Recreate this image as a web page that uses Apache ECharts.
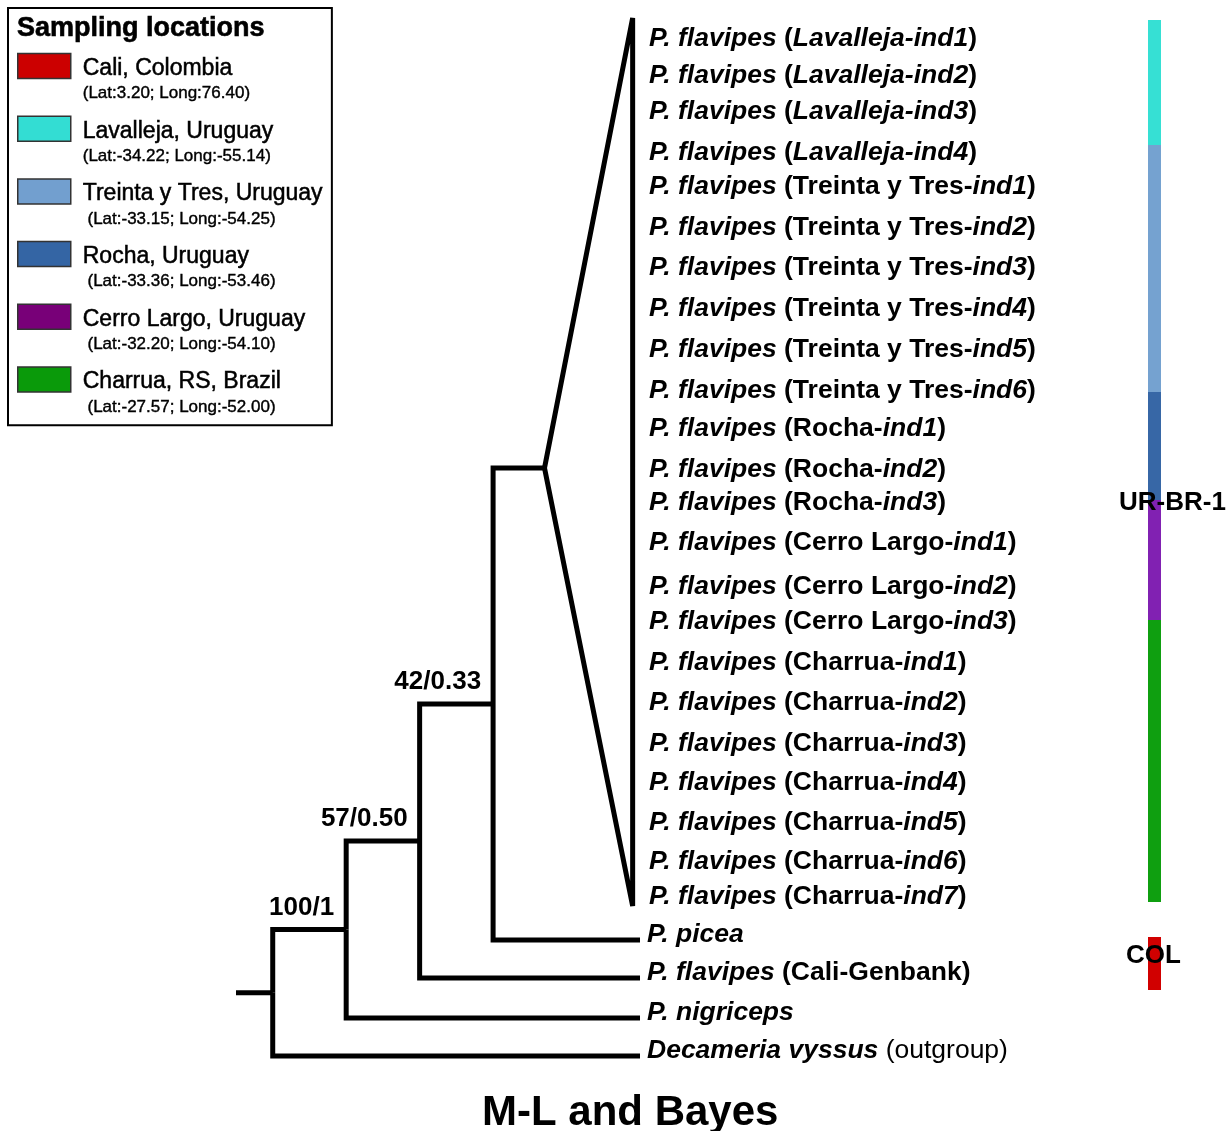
<!DOCTYPE html>
<html>
<head>
<meta charset="utf-8">
<script src="https://cdn.jsdelivr.net/npm/echarts@6/dist/echarts.min.js"></script>
<style>html,body{margin:0;padding:0;background:#fff}#c{width:1227px;height:1131px}</style>
</head>
<body>
<div id="c"></div>
<script>
// ---------- DATA ----------
// markup: *text* = bold italic, ~text~ = normal weight, plain = bold
const cladeTips = [
  '*P. flavipes* (*Lavalleja-ind1*)',
  '*P. flavipes* (*Lavalleja-ind2*)',
  '*P. flavipes* (*Lavalleja-ind3*)',
  '*P. flavipes* (*Lavalleja-ind4*)',
  '*P. flavipes* (Treinta y Tres-*ind1*)',
  '*P. flavipes* (Treinta y Tres-*ind2*)',
  '*P. flavipes* (Treinta y Tres-*ind3*)',
  '*P. flavipes* (Treinta y Tres-*ind4*)',
  '*P. flavipes* (Treinta y Tres-*ind5*)',
  '*P. flavipes* (Treinta y Tres-*ind6*)',
  '*P. flavipes* (Rocha-*ind1*)',
  '*P. flavipes* (Rocha-*ind2*)',
  '*P. flavipes* (Rocha-*ind3*)',
  '*P. flavipes* (Cerro Largo-*ind1*)',
  '*P. flavipes* (Cerro Largo-*ind2*)',
  '*P. flavipes* (Cerro Largo-*ind3*)',
  '*P. flavipes* (Charrua-*ind1*)',
  '*P. flavipes* (Charrua-*ind2*)',
  '*P. flavipes* (Charrua-*ind3*)',
  '*P. flavipes* (Charrua-*ind4*)',
  '*P. flavipes* (Charrua-*ind5*)',
  '*P. flavipes* (Charrua-*ind6*)',
  '*P. flavipes* (Charrua-*ind7*)'
];
const cladeTipY = [37, 74, 110, 151, 185, 226, 266, 307, 348, 389, 427, 468, 501, 541, 585, 620, 661, 701, 742, 781, 821, 860, 895];

const outerTips = ['*P. picea*', '*P. flavipes* (Cali-Genbank)', '*P. nigriceps*', '*Decameria vyssus*~ (outgroup)~'];
const outerTipY = [940, 978, 1018, 1056];

// internal nodes (cladogram depth); children: 'n#' = node index, 't#' = outer tip index, 'clade'
const nodeNames = ['root', 'n100', 'n57', 'n42'];
const nodeDepth = [0, 1, 2, 3];
const nodeChildren = [['n1', 't3'], ['n2', 't2'], ['n3', 't1'], ['clade', 't0']];
const supportLabels = ['', '100/1', '57/0.50', '42/0.33'];

const rootStubDepth = -0.5;
const tipDepth = 5;
const cladeApexDepth = 3.7;
const cladeApexY = 468;
const cladeEdgeDepth = 4.9;
const cladeSpanY = [18, 906];

// location bands (right column)
const bandNames = ['Lavalleja, Uruguay', 'Treinta y Tres, Uruguay', 'Rocha, Uruguay', 'Cerro Largo, Uruguay', 'Charrua, RS, Brazil', 'Cali, Colombia'];
const bandStart = [20, 145, 392, 500, 620, 937];
const bandEnd = [145, 392, 500, 620, 902, 990];
const bandColors = ['#36e0d4', '#75a2d0', '#3767a6', '#8121b2', '#0f9f10', '#d10000'];

const groupNames = ['UR-BR-1', 'COL'];
const groupY = [500, 954];

// legend
const legendNames = ['Cali, Colombia', 'Lavalleja, Uruguay', 'Treinta y Tres, Uruguay', 'Rocha, Uruguay', 'Cerro Largo, Uruguay', 'Charrua, RS, Brazil'];
const legendCoords = ['(Lat:3.20; Long:76.40)', '(Lat:-34.22; Long:-55.14)', ' (Lat:-33.15; Long:-54.25)', ' (Lat:-33.36; Long:-53.46)', ' (Lat:-32.20; Long:-54.10)', ' (Lat:-27.57; Long:-52.00)'];
const legendColors = ['#cc0000', '#33ddd3', '#729fcf', '#3465a4', '#780078', '#0a9a0a'];

// ---------- BUILD ----------
const FONT = '"Liberation Sans", Arial, sans-serif';

function toRich(s) {
  const out = [];
  let mode = 'b', buf = '';
  const flush = () => { if (buf) out.push('{' + mode + '|' + buf + '}'); buf = ''; };
  for (const ch of s) {
    if (ch === '*') { flush(); mode = mode === 'bi' ? 'b' : 'bi'; }
    else if (ch === '~') { flush(); mode = mode === 'n' ? 'b' : 'n'; }
    else buf += ch;
  }
  flush();
  return out.join('');
}
const TIP_FS = 26.5;
const tipRich = {
  bi: { fontFamily: FONT, fontSize: TIP_FS, fontWeight: 'bold', fontStyle: 'italic', color: '#000', opacity: 1 },
  b: { fontFamily: FONT, fontSize: TIP_FS, fontWeight: 'bold', color: '#000', opacity: 1 },
  n: { fontFamily: FONT, fontSize: TIP_FS, fontWeight: 'normal', color: '#000', opacity: 1 }
};

// node y positions = midpoint of children
function childPos(c) {
  if (c === 'clade') return [cladeApexDepth, cladeApexY];
  if (c[0] === 't') return [tipDepth, outerTipY[+c.slice(1)]];
  const k = +c.slice(1);
  return [nodeDepth[k], nodeY(k)];
}
function nodeY(k) {
  const ys = nodeChildren[k].map(c => childPos(c)[1]);
  return (Math.min(...ys) + Math.max(...ys)) / 2;
}
const edges = [];
edges.push({ coords: [[rootStubDepth, nodeY(0)], [nodeDepth[0], nodeY(0)]] });
nodeChildren.forEach((ch, k) => {
  const x = nodeDepth[k], y = nodeY(k);
  ch.forEach(c => {
    const p = childPos(c);
    edges.push({ coords: [[x, y], [x, p[1]], p] });
  });
});
edges.push({ coords: [[cladeApexDepth, cladeApexY], [cladeEdgeDepth, cladeSpanY[0]], [cladeEdgeDepth, cladeSpanY[1]], [cladeApexDepth, cladeApexY]] });

const series = [];
series.push({
  type: 'lines', coordinateSystem: 'cartesian2d', xAxisIndex: 0, yAxisIndex: 0,
  polyline: true, silent: true, z: 3,
  lineStyle: { color: '#000', width: 5, opacity: 1, join: 'miter', cap: 'butt' },
  data: edges
});
series.push({
  type: 'scatter', xAxisIndex: 0, yAxisIndex: 0, symbolSize: 0, silent: true, z: 5,
  itemStyle: { opacity: 1 },
  data: cladeTipY.map((y, i) => ({ value: [tipDepth, y], name: cladeTips[i] })),
  label: { show: true, position: 'right', distance: 9, offset: [0, 2], opacity: 1, color: '#000',
    formatter: p => toRich(p.name), rich: tipRich }
});
series.push({
  type: 'scatter', xAxisIndex: 0, yAxisIndex: 0, symbolSize: 0, silent: true, z: 5,
  itemStyle: { opacity: 1 },
  data: outerTipY.map((y, i) => ({ value: [tipDepth, y], name: outerTips[i] })),
  label: { show: true, position: 'right', distance: 7, offset: [0, -5], opacity: 1, color: '#000',
    formatter: p => toRich(p.name), rich: tipRich }
});
series.push({
  type: 'scatter', xAxisIndex: 0, yAxisIndex: 0, symbolSize: 0, silent: true, z: 5,
  itemStyle: { opacity: 1 },
  data: supportLabels.map((s, k) => ({ value: [nodeDepth[k], nodeY(k)], name: s })).filter(d => d.name),
  label: { show: true, position: 'left', distance: 12, offset: [0, -22], formatter: p => p.name, opacity: 1,
    fontFamily: FONT, fontSize: 26, fontWeight: 'bold', color: '#000' }
});
bandNames.forEach((nm, i) => {
  series.push({
    type: 'custom', name: nm, xAxisIndex: 1, yAxisIndex: 1, silent: true, z: 2,
    itemStyle: { color: bandColors[i] },
    data: [[bandStart[i], bandEnd[i]]],
    renderItem: (params, api) => {
      const p0 = api.coord([0, api.value(0)]);
      const p1 = api.coord([1, api.value(1)]);
      return { type: 'rect', shape: { x: p0[0], y: p0[1], width: p1[0] - p0[0], height: p1[1] - p0[1] },
        style: { fill: api.visual('color') } };
    }
  });
});
const groupOffsets = [[18, 3], [-1, 2]];
series.push({
  type: 'scatter', xAxisIndex: 1, yAxisIndex: 1, symbolSize: 0, silent: true, z: 6,
  itemStyle: { opacity: 1 },
  data: groupNames.map((g, i) => ({ value: [0.5, groupY[i]], name: g, label: { offset: groupOffsets[i] } })),
  label: { show: true, position: 'inside', formatter: p => p.name, opacity: 1,
    fontFamily: FONT, fontSize: 26, fontWeight: 'bold', color: '#000' }
});

const coordByName = {};
legendNames.forEach((n, i) => coordByName[n] = legendCoords[i]);

const option = {
  backgroundColor: '#fff',
  animation: false,
  title: [
    { text: 'M-L and Bayes', left: 482, top: 1092, padding: 0,
      textStyle: { fontFamily: FONT, fontSize: 42, fontWeight: 'bold', color: '#000', lineHeight: 42 } },
    { text: 'Sampling locations', left: 17, top: 15, padding: 0, z: 10,
      textStyle: { fontFamily: FONT, fontSize: 27, fontWeight: 'bold', color: '#000', lineHeight: 27,
        textBorderColor: '#000', textBorderWidth: 0.6 } }
  ],
  legend: {
    orient: 'vertical', left: 8, top: 8, selectedMode: false,
    padding: [27, 9, 9.5, 9],
    borderColor: '#000', borderWidth: 2, backgroundColor: '#fff',
    itemGap: -4.5, itemWidth: 53, itemHeight: 25, icon: 'rect',
    data: legendNames.map((n, i) => ({ name: n, icon: 'rect',
      itemStyle: { color: legendColors[i], borderColor: '#333', borderWidth: 1.5 } })),
    formatter: n => '{s| }\n{a|' + n + '}\n{b|' + coordByName[n] + '}',
    textStyle: {
      color: '#000', fontFamily: FONT,
      rich: {
        s: { fontSize: 12, lineHeight: 29, fontFamily: FONT },
        a: { fontSize: 23, lineHeight: 26, fontFamily: FONT, color: '#000', padding: [0, 0, 0, 7],
          textBorderColor: '#000', textBorderWidth: 0.5 },
        b: { fontSize: 17, lineHeight: 24, fontFamily: FONT, color: '#000', padding: [0, 0, 0, 7],
          textBorderColor: '#000', textBorderWidth: 0.4 }
      }
    }
  },
  grid: [
    { left: 236, width: 404, top: 0, height: 1131 },
    { left: 1148, width: 13, top: 0, height: 1131 }
  ],
  xAxis: [
    { type: 'value', gridIndex: 0, min: rootStubDepth, max: tipDepth, show: false },
    { type: 'value', gridIndex: 1, min: 0, max: 1, show: false }
  ],
  yAxis: [
    { type: 'value', gridIndex: 0, min: 0, max: 1131, inverse: true, show: false },
    { type: 'value', gridIndex: 1, min: 0, max: 1131, inverse: true, show: false }
  ],
  series: series
};
const chart = echarts.init(document.getElementById('c'), null, { renderer: 'canvas' });
chart.setOption(option);
</script>
</body>
</html>
